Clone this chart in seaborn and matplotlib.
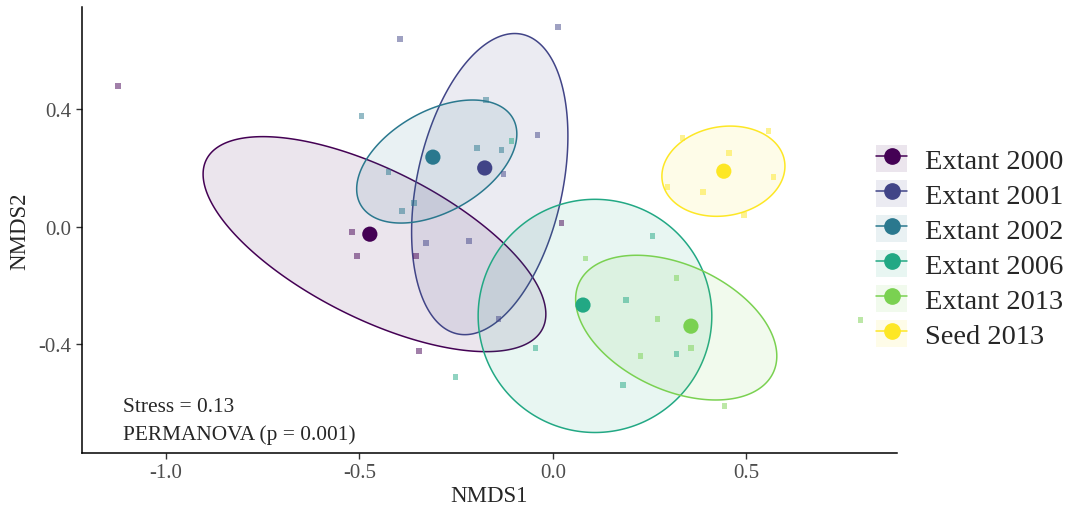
import numpy as np
import pandas as pd
import matplotlib
matplotlib.use("Agg")
import matplotlib.pyplot as plt
import seaborn as sns
from matplotlib.patches import Patch
from matplotlib.lines import Line2D
from matplotlib.legend_handler import HandlerTuple
from matplotlib.colors import to_rgba

# groups and colours (viridis, 6 levels)
groups = ["Extant 2000", "Extant 2001", "Extant 2002", "Extant 2006", "Extant 2013", "Seed 2013"]
colors = ["#440154", "#414487", "#2A788E", "#22A884", "#7AD151", "#FDE725"]

# site scores
x_2000 = [-1.124, -0.519, -0.506, -0.354, -0.346, 0.023]
y_2000 = [0.480, -0.019, -0.101, -0.101, -0.425, 0.012]
x_2001 = [-0.395, 0.013, -0.039, -0.127, -0.328, -0.217, -0.140]
y_2001 = [0.640, 0.681, 0.312, 0.179, -0.056, -0.049, -0.316]
x_2002 = [-0.494, -0.173, -0.196, -0.132, -0.424, -0.359, -0.390]
y_2002 = [0.377, 0.432, 0.268, 0.261, 0.186, 0.080, 0.053]
x_2006 = [-0.106, -0.044, -0.251, 0.258, 0.189, 0.320, 0.181]
y_2006 = [0.292, -0.415, -0.514, -0.032, -0.251, -0.435, -0.541]
x_2013 = [0.085, 0.320, 0.271, 0.357, 0.227, 0.444, 0.796]
y_2013 = [-0.108, -0.176, -0.316, -0.415, -0.442, -0.613, -0.319]
x_seed = [0.336, 0.558, 0.455, 0.571, 0.297, 0.388, 0.494]
y_seed = [0.302, 0.326, 0.251, 0.169, 0.135, 0.118, 0.039]

# group centroids
cent_x = [-0.473, -0.176, -0.310, 0.078, 0.357, 0.442]
cent_y = [-0.026, 0.200, 0.237, -0.268, -0.340, 0.189]

# ellipses: centre, x / y half extent, correlation
ell_cx = [-0.461, -0.163, -0.300, 0.109, 0.319, 0.441]
ell_cy = [-0.060, 0.145, 0.222, -0.305, -0.345, 0.189]
ell_rx = [0.443, 0.202, 0.207, 0.302, 0.260, 0.159]
ell_ry = [0.367, 0.514, 0.210, 0.398, 0.247, 0.154]
ell_rho = [-0.651, 0.319, 0.447, 0.0, -0.393, 0.111]

xs = [x_2000, x_2001, x_2002, x_2006, x_2013, x_seed]
ys = [y_2000, y_2001, y_2002, y_2006, y_2013, y_seed]
sites = pd.concat([pd.DataFrame({"NMDS1": a, "NMDS2": b, "group": g}) for a, b, g in zip(xs, ys, groups)])
cents = pd.DataFrame({"NMDS1": cent_x, "NMDS2": cent_y, "group": groups})
palette = dict(zip(groups, colors))

sns.set_style("white")
plt.rcParams["font.family"] = ["Liberation Serif", "DejaVu Serif"]

fig = plt.figure(figsize=(10.72, 5.10), dpi=100)
ax = fig.add_axes([0.0765, 0.1098, 0.76, 0.8742])

t = np.linspace(0, 2 * np.pi, 400)
for i, g in enumerate(groups):
    s = np.array([[ell_rx[i] ** 2, ell_rho[i] * ell_rx[i] * ell_ry[i]],
                  [ell_rho[i] * ell_rx[i] * ell_ry[i], ell_ry[i] ** 2]])
    L = np.linalg.cholesky(s)
    pts = L @ np.vstack([np.cos(t), np.sin(t)])
    ex = ell_cx[i] + pts[0]
    ey = ell_cy[i] + pts[1]
    ax.fill(ex, ey, facecolor=to_rgba(colors[i], 0.1), edgecolor=colors[i], lw=1.1)

sns.scatterplot(data=sites, x="NMDS1", y="NMDS2", hue="group", palette=palette,
                marker="s", s=15, alpha=0.5, linewidth=0, legend=False, ax=ax)
sns.scatterplot(data=cents, x="NMDS1", y="NMDS2", hue="group", palette=palette,
                s=120, linewidth=0, legend=False, ax=ax)

ax.set_xlim(-1.217, 0.889)
ax.set_ylim(-0.773, 0.749)
ax.set_xticks([-1.0, -0.5, 0.0, 0.5])
ax.set_xticklabels(["-1.0", "-0.5", "0.0", "0.5"])
ax.set_yticks([-0.4, 0.0, 0.4])
ax.set_yticklabels(["-0.4", "0.0", "0.4"])
ax.tick_params(axis="both", labelsize=15, labelcolor="#4d4d4d", length=4, width=1,
               direction="out", bottom=True, left=True, color="#333333")
ax.set_xlabel("NMDS1", fontsize=16.5, labelpad=2)
ax.set_ylabel("NMDS2", fontsize=16.5, labelpad=6)
sns.despine(ax=ax)
for side in ["left", "bottom"]:
    ax.spines[side].set_color("black")
    ax.spines[side].set_linewidth(1.1)

ax.text(0.05, 0.094, "Stress = 0.13", transform=ax.transAxes, fontsize=15.4, va="baseline")
ax.text(0.05, 0.031, "PERMANOVA (p = 0.001)", transform=ax.transAxes, fontsize=15.4, va="baseline")

handles = []
for c in colors:
    box = Patch(facecolor=c, alpha=0.1, edgecolor="none")
    mark = Line2D([], [], color=c, marker="o", markersize=11, lw=1.1)
    handles.append((box, mark))
fig.legend(handles, groups, handler_map={tuple: HandlerTuple(ndivide=1, pad=0)},
           loc="center left", bbox_to_anchor=(0.8067, 0.514), frameon=False, fontsize=20.5,
           handlelength=1.1, handleheight=1.1, handletextpad=0.6, labelspacing=0.2,
           borderaxespad=0)

fig.savefig("out.png", dpi=100)
